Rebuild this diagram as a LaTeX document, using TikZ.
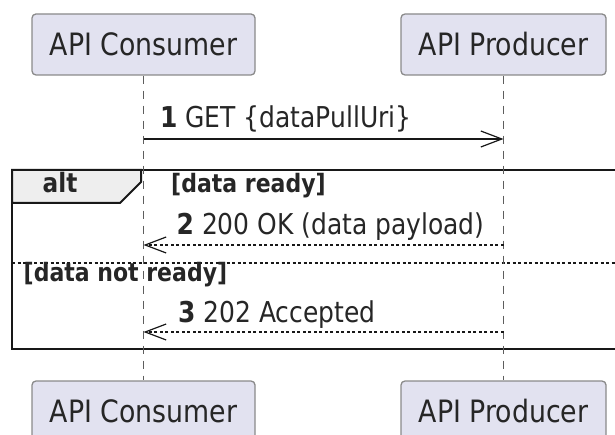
\documentclass[tikz,border=0pt]{standalone}
\usepackage{fontspec}
\setmainfont[FakeStretch=0.87]{DejaVu Sans}
\usetikzlibrary{arrows.meta}
\definecolor{partfill}{HTML}{E2E2F0}
\definecolor{partline}{HTML}{8A8A8A}
\definecolor{ink}{HTML}{181818}
\definecolor{tabfill}{HTML}{EEEEEE}
\newcommand{\msgfont}{\fontsize{28.7}{30}\selectfont}
\newcommand{\guardfont}{\bfseries\fontsize{25.3}{28}\selectfont}

\begin{document}
\begin{tikzpicture}[x=1pt, y=-1pt, every node/.style={text=black!85},
    part/.style={draw=partline, fill=partfill, line width=1.3pt, rounded corners=4pt,
      minimum height=61pt, inner sep=0pt, font=\fontsize{30.8}{32}\selectfont},
    life/.style={draw=ink!70, line width=1pt, dash pattern=on 8pt off 7pt},
    msg/.style={draw=ink, line width=1.5pt, -{Straight Barb[length=21pt, width=16pt, line width=1.2pt]}},
    reply/.style={msg, dash pattern=on 3pt off 2.5pt},
    msglbl/.style={anchor=base west, inner sep=0pt, font=\msgfont},
    guard/.style={anchor=base west, inner sep=0pt, font=\guardfont},
    frame/.style={draw=ink, line width=2.6pt}]
    \useasboundingbox (0,0) rectangle (615,435);
    \clip (0,0) rectangle (615,435);
    % participants, top and bottom
    \node[part, minimum width=223pt] (cons) at (143.5,44.5) {API Consumer};
    \node[part, minimum width=205pt] (prod) at (503.5,44.5) {API Producer};
    \node[part, minimum width=223pt] (consB) at (143.5,411.5) {API Consumer};
    \node[part, minimum width=205pt] (prodB) at (503.5,411.5) {API Producer};
    % alt frame
    \draw[frame] (12,170) rectangle (640,349);
    \draw[frame, fill=tabfill, line width=2pt] (12,170) -- (141,170) -- (141,182) -- (120,203) -- (12,203) -- cycle;
    \node[anchor=base, inner sep=0pt, font=\bfseries\fontsize{26.7}{28}\selectfont] (alt) at (60,193) {alt};
    \draw[draw=ink, line width=1.3pt, dash pattern=on 3pt off 2.5pt] (12,263) -- (640,263);
    \node[guard] (g1) at (171,193) {[data ready]};
    \node[guard] (g2) at (23.5,282) {[data not ready]};
    % lifelines
    \draw[life] (cons) -- (consB);
    \draw[life] (prod) -- (prodB);
    % messages
    \coordinate (c1) at (cons.south |- 0,139);  \coordinate (p1) at (prod.south |- 0,139);
    \coordinate (c2) at (cons.south |- 0,245);  \coordinate (p2) at (prod.south |- 0,245);
    \coordinate (c3) at (cons.south |- 0,332);  \coordinate (p3) at (prod.south |- 0,332);
    \draw[msg] (c1) -- (p1);
    \node[msglbl] (l1) at (160,128) {\textbf{1} GET \{dataPullUri\}};
    \draw[reply] (p2) -- (c2);
    \node[msglbl] (l2) at (176.5,235) {\textbf{2} 200 OK (data payload)};
    \draw[reply] (p3) -- (c3);
    \node[msglbl] (l3) at (178,323) {\textbf{3} 202 Accepted};
\end{tikzpicture}
\end{document}
